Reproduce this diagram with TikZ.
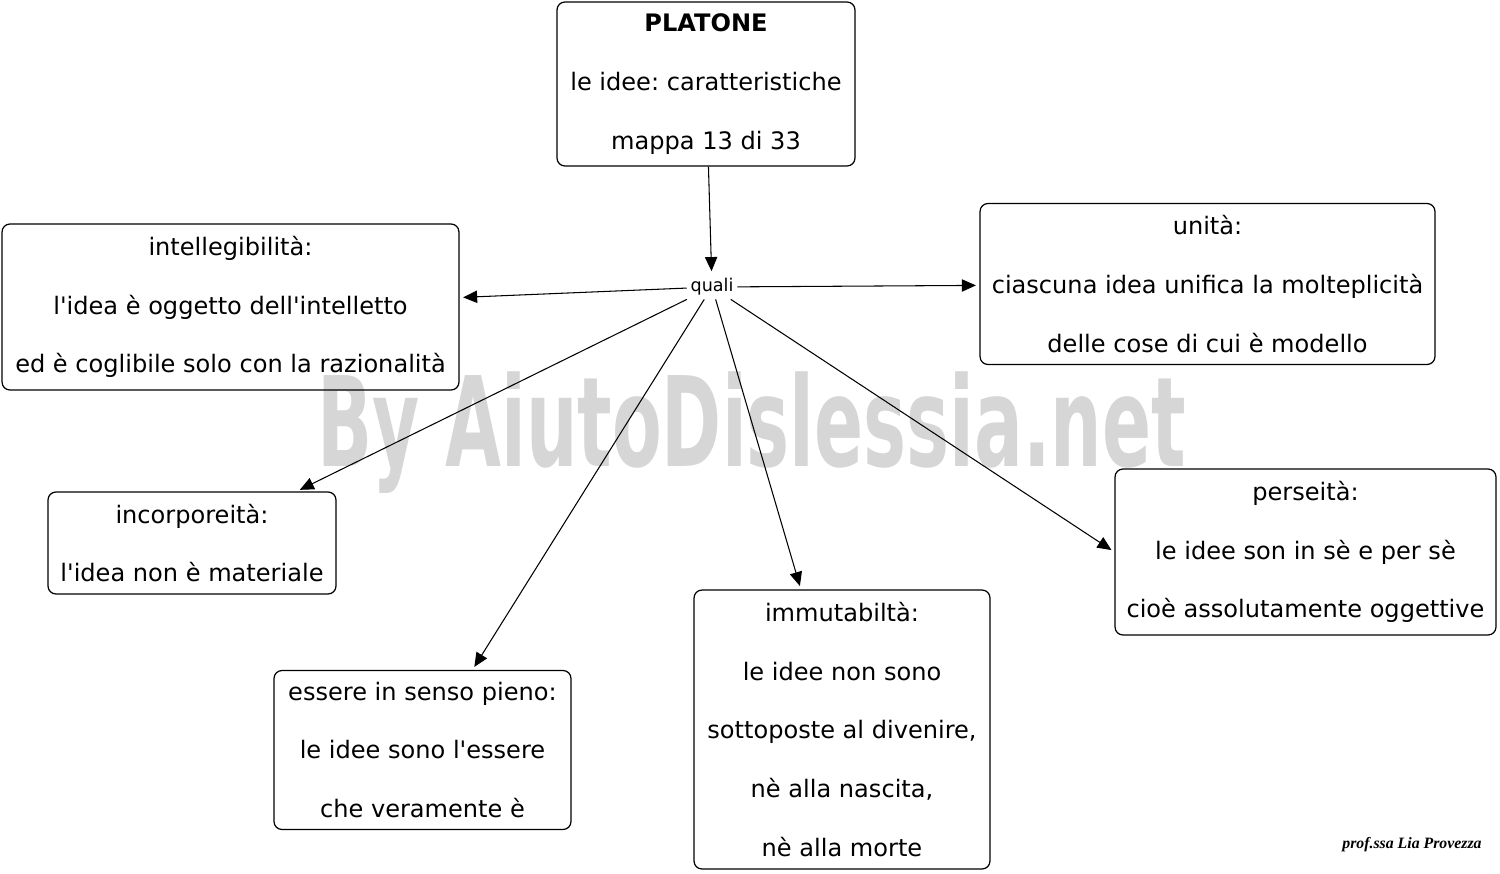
\documentclass[tikz,border=0pt]{standalone}
\usepackage{fontspec}
\setmainfont{DejaVu Sans}
\newfontfamily\firma{Liberation Serif}
\usetikzlibrary{arrows.meta}
\frenchspacing

\begin{document}
\begin{tikzpicture}[>={Triangle[length=8pt,width=7pt]}, x=0.02cm, y=-0.02cm,
    concetto/.style={draw, line width=0.7pt, rounded corners=4.5pt, align=center, inner sep=0pt,
      font=\fontsize{13.7pt}{33.4pt}\selectfont},
    freccia/.style={->, line width=0.6pt, shorten >=2pt}]
    \useasboundingbox (0,0) rectangle (1500,873);
    % scritta di sfondo
    \node[anchor=base, inner sep=0pt, text=black!16, font=\fontsize{71pt}{71pt}\selectfont\bfseries] (marchio) at (752,466) {\scalebox{0.58}[1]{By AiutoDislessia.net}};
    \node[concetto, minimum width=5.96cm, minimum height=3.28cm] (platone) at (706,84) {\textbf{PLATONE}\\le idee: caratteristiche\\mappa 13 di 33};
    \node[font=\fontsize{10pt}{12pt}\selectfont, inner sep=2pt] (quali) at (712,287) {quali};
    \node[concetto, minimum width=9.14cm, minimum height=3.32cm] (intelligibile) at (230.5,307) {intellegibilità:\\l\textquotesingle idea è oggetto dell\textquotesingle intelletto\\ed è coglibile solo con la razionalità};
    \node[concetto, minimum width=9.10cm, minimum height=3.22cm] (unita) at (1207.5,284) {unità:\\ciascuna idea unifica la molteplicità\\delle cose di cui è modello};
    \node[concetto, minimum width=5.76cm, minimum height=2.04cm] (incorporeo) at (192,543) {incorporeità:\\l\textquotesingle idea non è materiale};
    \node[concetto, minimum width=5.94cm, minimum height=3.18cm] (essere) at (422.5,750) {essere in senso pieno:\\le idee sono l\textquotesingle essere\\che veramente è};
    \node[concetto, minimum width=5.92cm, minimum height=5.58cm] (immutabile) at (842,729.5) {immutabiltà:\\le idee non sono\\sottoposte al divenire,\\nè alla nascita,\\nè alla morte};
    \node[concetto, minimum width=7.62cm, minimum height=3.32cm] (perseita) at (1305.5,552) {perseità:\\le idee son in sè e per sè\\cioè assolutamente oggettive};
    \draw[freccia] (platone) -- (quali);
    \draw[freccia] (quali) -- (intelligibile);
    \draw[freccia] (quali) -- (unita);
    \draw[freccia] (quali) -- (incorporeo);
    \draw[freccia] (quali) -- (essere);
    \draw[freccia] (quali) -- (immutabile);
    \draw[freccia] (quali) -- (perseita.west);
    \node[font=\firma\bfseries\itshape\fontsize{9pt}{10pt}\selectfont] (autrice) at (1412,845) {prof.ssa Lia Provezza};
\end{tikzpicture}
\end{document}
